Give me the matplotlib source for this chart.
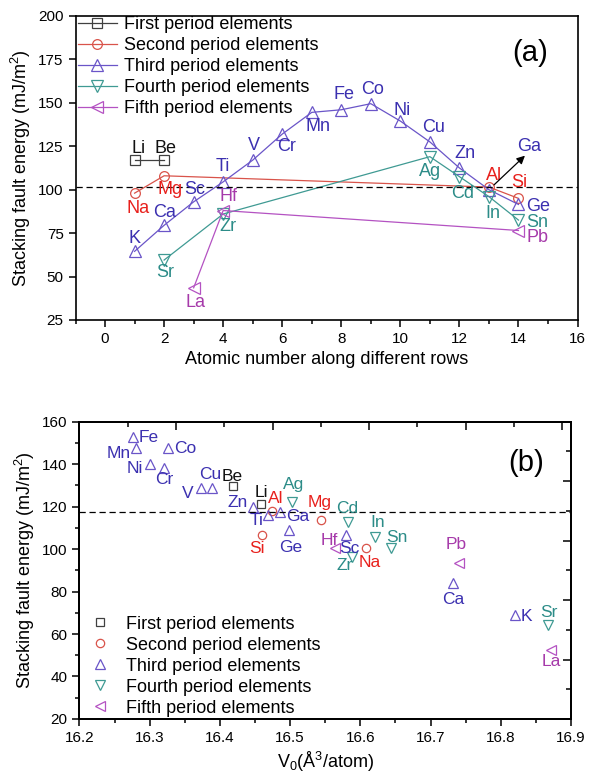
import numpy as np
import matplotlib
matplotlib.use('Agg')
import matplotlib.pyplot as plt
from matplotlib.ticker import MultipleLocator, NullFormatter

plt.rcParams['font.family'] = ['Liberation Sans', 'DejaVu Sans']
plt.rcParams['mathtext.fontset'] = 'custom'
plt.rcParams['mathtext.rm'] = 'Liberation Sans'
plt.rcParams['mathtext.it'] = 'Liberation Sans:italic'
plt.rcParams['axes.linewidth'] = 1.2

# ---- panel (a): SFE vs atomic number along rows ----
a1_names = ['Li', 'Be']
a1_x = [1, 2]
a1_y = [117, 117]

a2_names = ['Na', 'Mg', 'Al', 'Si']
a2_x = [1, 2, 13, 14]
a2_y = [98, 108, 101.5, 95]

a3_names = ['K', 'Ca', 'Sc', 'Ti', 'V', 'Cr', 'Mn', 'Fe', 'Co', 'Ni', 'Cu', 'Zn', 'Ga', 'Ge']
a3_x = [1, 2, 3, 4, 5, 6, 7, 8, 9, 10, 11, 12, 13, 14]
a3_y = [64.5, 79.5, 93, 104.5, 117, 132, 144.5, 146, 149.5, 139.5, 127.5, 112.5, 100, 91.5]

a4_names = ['Sr', 'Zr', 'Ag', 'Cd', 'In', 'Sn']
a4_x = [2, 4, 11, 12, 13, 14]
a4_y = [59.5, 86, 119, 107.5, 96, 82.5]

a5_names = ['La', 'Hf', 'Pb']
a5_x = [3, 4, 14]
a5_y = [43.5, 88, 76.5]

a_ref = 101.5

# ---- panel (b): SFE vs atomic volume ----
b1_names = ['Li', 'Be']
b1_x = [16.458, 16.419]
b1_y = [121, 129.7]

b2_names = ['Na', 'Mg', 'Al', 'Si']
b2_x = [16.608, 16.544, 16.474, 16.460]
b2_y = [100.6, 113.6, 118, 106.6]

b3_names = ['K', 'Ca', 'Sc', 'Ti', 'V', 'Cr', 'Mn', 'Fe', 'Co', 'Ni', 'Cu', 'Zn', 'Ga', 'Ge']
b3_x = [16.820, 16.732, 16.579, 16.469, 16.373, 16.320, 16.281, 16.276, 16.326, 16.301,
        16.389, 16.447, 16.486, 16.498]
b3_y = [68.8, 84, 106.6, 116, 128.6, 138.3, 147.7, 152.6, 147.4, 139.9, 128.6, 119.9, 117.5, 108.9]

b4_names = ['Sr', 'Zr', 'Ag', 'Cd', 'In', 'Sn']
b4_x = [16.868, 16.588, 16.502, 16.583, 16.621, 16.644]
b4_y = [64.1, 96.3, 122.3, 112.8, 105.8, 100.3]

b5_names = ['La', 'Hf', 'Pb']
b5_x = [16.872, 16.564, 16.740]
b5_y = [52.6, 100.3, 93.5]

b_ref = 117.5

legend_labels = ['First period elements', 'Second period elements', 'Third period elements',
                 'Fourth period elements', 'Fifth period elements']

# styles per period: marker, marker colour, label colour
styles = [('s', '#404040', '#111111'),
          ('o', '#d9534a', '#e8201c'),
          ('^', '#6a55c8', '#3b30b0'),
          ('v', '#3f9a93', '#2c8c88'),
          ('<', '#b452c2', '#a63aaa')]

# label offsets in pixels (dx, dy) relative to the point
off_a = {'Li': (4, 12), 'Be': (1, 12), 'Na': (3, -15), 'Mg': (6, -14), 'Al': (5, 12), 'Si': (1, 16),
         'K': (0, 13), 'Ca': (0, 13), 'Sc': (1, 12), 'Ti': (0, 15), 'V': (1, 15), 'Cr': (4, -12),
         'Mn': (6, -14), 'Fe': (3, 15), 'Co': (2, 14), 'Ni': (2, 11), 'Cu': (4, 14), 'Zn': (6, 14),
         'Ga': (40, 43), 'Ge': (20, -2), 'Sr': (1, -12), 'Zr': (5, -13), 'Ag': (0, -15),
         'Cd': (3, -17), 'In': (4, -17), 'Sn': (19, -2), 'La': (2, -15), 'Hf': (5, 14), 'Pb': (19, -7)}

off_b = {'Li': (1, 12), 'Be': (-1, 10), 'Na': (4, -15), 'Mg': (-1, 18), 'Al': (4, 12), 'Si': (-5, -13),
         'K': (12, -1), 'Ca': (0, -16), 'Sc': (4, -13), 'Ti': (-12, -5), 'V': (-13, -5), 'Cr': (1, -12),
         'Mn': (-18, -6), 'Fe': (16, 0), 'Co': (17, 0), 'Ni': (-16, -4), 'Cu': (-2, 14), 'Zn': (-15, 4),
         'Ga': (17, -5), 'Ge': (2, -17), 'Sr': (0, 13), 'Zr': (-7, -9), 'Ag': (2, 17), 'Cd': (-1, 13),
         'In': (3, 14), 'Sn': (6, 11), 'La': (0, -12), 'Hf': (-6, 8), 'Pb': (-2, 18)}

fig = plt.figure(figsize=(5.91, 7.74), dpi=100)
ax = fig.add_axes([0.1278, 0.5866, 0.8494, 0.3928])
axb = fig.add_axes([0.1345, 0.0711, 0.8316, 0.3841])

# ---------------- panel (a) ----------------
groups_a = [(a1_names, a1_x, a1_y), (a2_names, a2_x, a2_y), (a3_names, a3_x, a3_y),
            (a4_names, a4_x, a4_y), (a5_names, a5_x, a5_y)]
for (names, xs, ys), lab, (mk, mc, tc) in zip(groups_a, legend_labels, styles):
    ms = 7 if mk in ('s', 'o') else 8.5
    ax.plot(xs, ys, marker=mk, color=mc, lw=0.9, ms=ms, mfc='none', mew=0.9, label=lab)
    for n, x, y in zip(names, xs, ys):
        ax.annotate(n, (x, y), xytext=off_a[n], textcoords='offset pixels',
                    ha='center', va='center', fontsize=13, color=tc)

ga_i = a3_names.index('Ga')
ax.annotate('', xy=(a3_x[ga_i], a3_y[ga_i]), xytext=(36, 34), textcoords='offset pixels',
            arrowprops=dict(arrowstyle='<|-', color='black', lw=0.9, shrinkA=0, shrinkB=5,
                            mutation_scale=12))

ax.axhline(a_ref, color='black', ls=(0, (5, 3)), lw=0.9)
ax.set_xlim(-1, 16)
ax.set_ylim(25, 200)
ax.xaxis.set_major_locator(MultipleLocator(2))
ax.xaxis.set_minor_locator(MultipleLocator(1))
ax.yaxis.set_major_locator(MultipleLocator(25))
ax.tick_params(direction='out', length=5, width=1.1, labelsize=11)
ax.tick_params(which='minor', direction='out', length=3, width=1.1)
ax.set_xlabel('Atomic number along different rows', fontsize=13, labelpad=4)
ax.set_ylabel('Stacking fault energy (mJ/m$^2$)', fontsize=13, labelpad=4)
ax.text(14.4, 178.6, '(a)', fontsize=21, ha='center', va='center')
ax.legend(loc='upper left', bbox_to_anchor=(0.004, 1.0), frameon=False, fontsize=13,
          handlelength=2.2, handletextpad=0.4, labelspacing=0.22, borderpad=0, borderaxespad=0)

# ---------------- panel (b) ----------------
groups_b = [(b1_names, b1_x, b1_y), (b2_names, b2_x, b2_y), (b3_names, b3_x, b3_y),
            (b4_names, b4_x, b4_y), (b5_names, b5_x, b5_y)]
for (names, xs, ys), lab, (mk, mc, tc) in zip(groups_b, legend_labels, styles):
    ms = 6 if mk in ('s', 'o') else 7
    axb.plot(xs, ys, ls='none', marker=mk, color=mc, ms=ms, mfc='none', mew=0.9, label=lab)
    for n, x, y in zip(names, xs, ys):
        axb.annotate(n, (x, y), xytext=off_b[n], textcoords='offset pixels',
                     ha='center', va='center', fontsize=12.5, color=tc)

axb.axhline(b_ref, color='black', ls=(0, (5, 3)), lw=0.9)
axb.set_xlim(16.2, 16.9)
axb.set_ylim(20, 160)
axb.xaxis.set_major_locator(MultipleLocator(0.1))
axb.xaxis.set_minor_locator(MultipleLocator(0.05))
axb.yaxis.set_major_locator(MultipleLocator(20))
axb.yaxis.set_minor_locator(MultipleLocator(10))
axb.tick_params(direction='out', length=5, width=1.1, labelsize=11)
axb.tick_params(which='minor', direction='out', length=3, width=1.1)
axb.set_xlabel('V$_0$(Å$^3$/atom)', fontsize=13, labelpad=4)
axb.set_ylabel('Stacking fault energy (mJ/m$^2$)', fontsize=13, labelpad=4)
axb.text(16.836, 140.4, '(b)', fontsize=21, ha='center', va='center')
axb.legend(loc='lower left', bbox_to_anchor=(0.006, 0.008), frameon=False, fontsize=13,
           handlelength=2.0, handletextpad=0.4, labelspacing=0.22, borderpad=0, borderaxespad=0,
           numpoints=1)

# independent inward ticks on top and right of panel (b)
axt = axb.twiny()
axt.set_xlim(0, 10.18)
axt.xaxis.set_major_locator(MultipleLocator(2))
axt.xaxis.set_minor_locator(MultipleLocator(1))
axt.xaxis.set_major_formatter(NullFormatter())
axt.tick_params(which='both', direction='in', width=1.1)
axt.tick_params(which='major', length=6)
axt.tick_params(which='minor', length=3.5)
axr = axb.twinx()
axr.set_ylim(0, 10)
axr.yaxis.set_major_locator(MultipleLocator(2))
axr.yaxis.set_minor_locator(MultipleLocator(1))
axr.yaxis.set_major_formatter(NullFormatter())
axr.tick_params(which='both', direction='in', width=1.1)
axr.tick_params(which='major', length=6)
axr.tick_params(which='minor', length=3.5)

fig.savefig('out.png', dpi=100)
